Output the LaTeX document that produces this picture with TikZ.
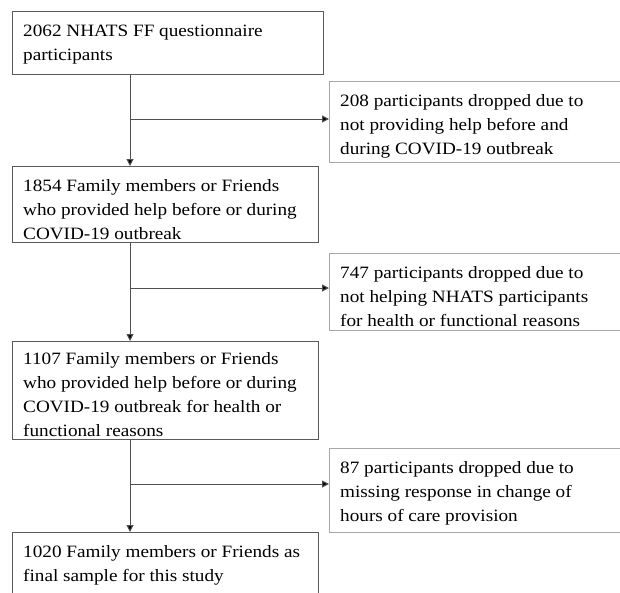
\documentclass[tikz,border=0pt]{standalone}
\usepackage{fontspec}
\setmainfont{Liberation Serif}[FakeStretch=1.11]
\usetikzlibrary{arrows.meta,calc}
\definecolor{lbox}{HTML}{5A5A5A}
\definecolor{rbox}{HTML}{A8A8A8}
\definecolor{conn}{HTML}{505050}
\begin{document}
\begin{tikzpicture}[x=1pt,y=-1pt,
  lbox/.style={draw=lbox,line width=1pt,rectangle,inner sep=0pt,anchor=north west},
  rbox/.style={draw=rbox,line width=1pt,rectangle,inner sep=0pt,anchor=north west},
  txt/.style={anchor=north west,inner sep=0pt,align=left,font=\fontsize{17.3}{24}\selectfont},
  conn/.style={draw=conn,line width=1pt},
  arr/.style={conn,-{Triangle[length=7pt,width=7pt,fill=black]}}]
\useasboundingbox (0,0) rectangle (620,592);
% left boxes
\node[lbox,minimum width=311,minimum height=63] (b1) at (12,11) {};
\node[lbox,minimum width=306,minimum height=76] (b2) at (12,166) {};
\node[lbox,minimum width=306,minimum height=98] (b3) at (12,341) {};
\node[lbox,minimum width=306,minimum height=70] (b4) at (12,532) {};
% right boxes
\node[rbox,minimum width=300,minimum height=81] (r1) at (329,81) {};
\node[rbox,minimum width=300,minimum height=77] (r2) at (329,253) {};
\node[rbox,minimum width=300,minimum height=84] (r3) at (329,448) {};
% texts
\node[txt] (t1) at ([shift={(11,8)}]b1.north west) {\strut 2062 NHATS FF questionnaire\\participants};
\node[txt] (t2) at ([shift={(11,8)}]b2.north west) {\strut 1854 Family members or Friends\\who provided help before or during\\COVID-19 outbreak};
\node[txt] (t3) at ([shift={(11,6)}]b3.north west) {\strut 1107 Family members or Friends\\who provided help before or during\\COVID-19 outbreak for health or\\functional reasons};
\node[txt] (t4) at ([shift={(11,8)}]b4.north west) {\strut 1020 Family members or Friends as\\final sample for this study};
\node[txt] (s1) at ([shift={(11,8)}]r1.north west) {\strut 208 participants dropped due to\\not providing help before and\\during COVID-19 outbreak};
\node[txt] (s2) at ([shift={(11,8)}]r2.north west) {\strut 747 participants dropped due to\\not helping NHATS participants\\for health or functional reasons};
\node[txt] (s3) at ([shift={(11,8)}]r3.north west) {\strut 87 participants dropped due to\\missing response in change of\\hours of care provision};
% branch points
\coordinate (c1) at (130,119);
\coordinate (c2) at (130,288);
\coordinate (c3) at (130,484);
% connectors
\draw[arr] (b1.south -| c1) -- (b2.north -| c1);
\draw[arr] (b2.south -| c2) -- (b3.north -| c2);
\draw[arr] (b3.south -| c3) -- (b4.north -| c3);
\draw[arr] (c1) -- (c1 -| r1.west);
\draw[arr] (c2) -- (c2 -| r2.west);
\draw[arr] (c3) -- (c3 -| r3.west);
\end{tikzpicture}
\end{document}
